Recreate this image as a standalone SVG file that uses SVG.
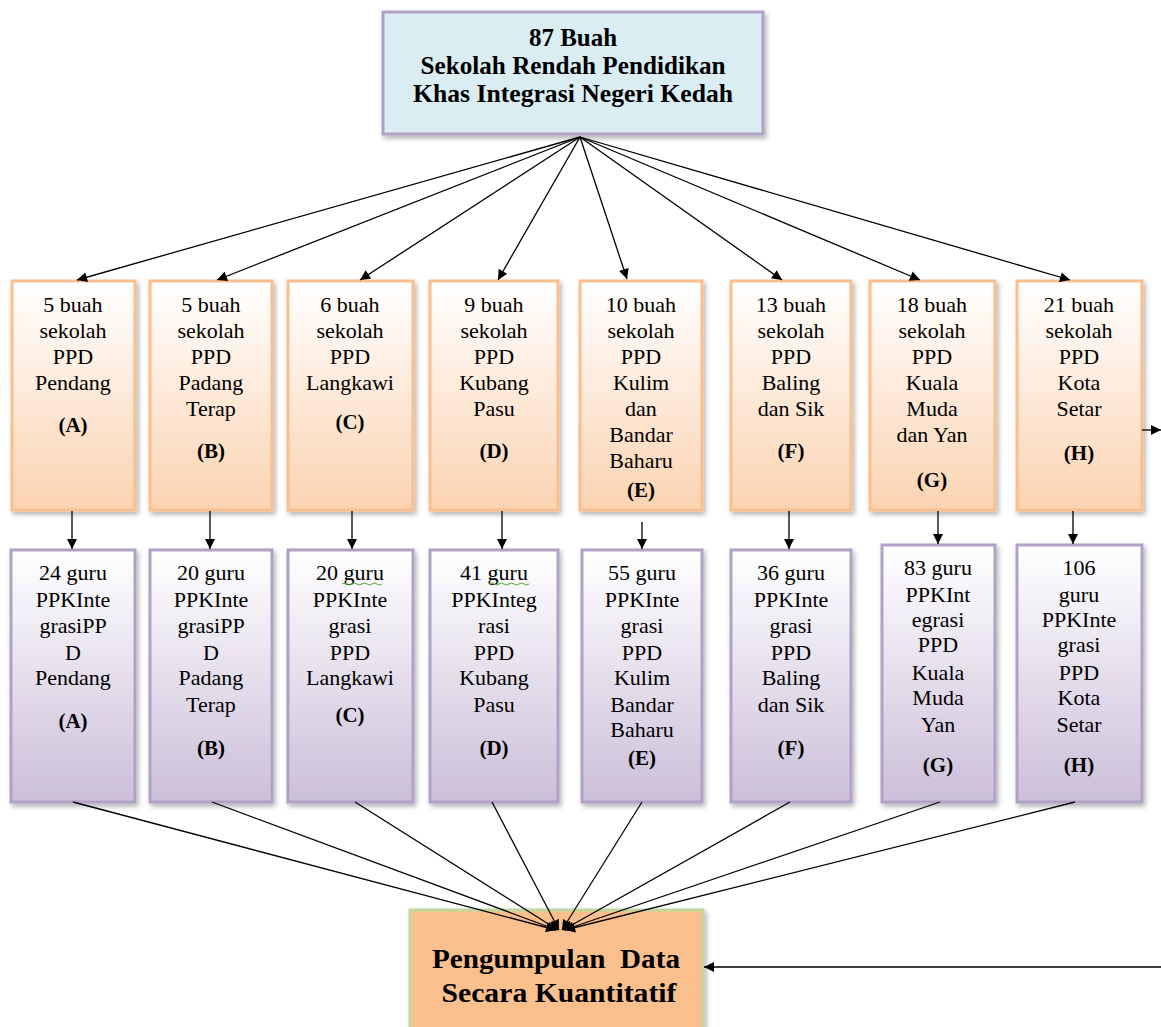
<svg xmlns="http://www.w3.org/2000/svg" width="1161" height="1027" viewBox="0 0 1161 1027">
<defs>
<linearGradient id="gOr" x1="0" y1="0" x2="0" y2="1"><stop offset="0" stop-color="#ffffff"/><stop offset="1" stop-color="#fbd3b1"/></linearGradient>
<linearGradient id="gPu" x1="0" y1="0" x2="0" y2="1"><stop offset="0" stop-color="#ffffff"/><stop offset="1" stop-color="#cbbfd9"/></linearGradient>
<filter id="sh" x="-20%" y="-20%" width="140%" height="140%"><feDropShadow dx="2" dy="3" stdDeviation="2.5" flood-color="#000" flood-opacity="0.3"/></filter>
<marker id="ah" viewBox="0 0 10 10" refX="10" refY="5" markerWidth="11" markerHeight="10" markerUnits="userSpaceOnUse" orient="auto"><path d="M0,0 L10,5 L0,10 Z" fill="#000"/></marker>
<style>
.top{fill:#daedf3;stroke:#b2a1c7;stroke-width:3}
.or{fill:url(#gOr);stroke:#f9bf8f;stroke-width:3}
.pu{fill:url(#gPu);stroke:#b2a1c7;stroke-width:3}
.bot{fill:#f9c08e;stroke:#c3d69b;stroke-width:3}
text{font-family:"Liberation Serif","Times New Roman",serif;fill:#000;text-anchor:middle}
.t{font-size:22px}
.b{font-size:21px;font-weight:bold}
.h{font-size:25px;font-weight:bold}
.bt{font-size:27px;font-weight:bold}
.c line{stroke:#000;stroke-width:1.3;marker-end:url(#ah)}
.sq{fill:none;stroke:#4ea72e;stroke-width:1}
</style>
</defs>
<rect width="1161" height="1027" fill="#fff"/>

<g id="top">
<rect class="top" x="383" y="12" width="380" height="122" filter="url(#sh)"/>
<text class="h" x="573" y="46">87 Buah</text>
<text class="h" x="573" y="74" textLength="305" lengthAdjust="spacingAndGlyphs">Sekolah Rendah Pendidikan</text>
<text class="h" x="573" y="102" textLength="320" lengthAdjust="spacingAndGlyphs">Khas Integrasi Negeri Kedah</text>
</g>

<g id="oA"><rect class="or" x="12" y="281" width="123" height="229" filter="url(#sh)"/>
<text class="t" x="73" y="312">5 buah</text><text class="t" x="73" y="338">sekolah</text><text class="t" x="73" y="364">PPD</text><text class="t" x="73" y="390">Pendang</text><text class="b" x="73" y="432">(A)</text></g>
<g id="oB"><rect class="or" x="150" y="281" width="122" height="229" filter="url(#sh)"/>
<text class="t" x="211" y="312">5 buah</text><text class="t" x="211" y="338">sekolah</text><text class="t" x="211" y="364">PPD</text><text class="t" x="211" y="390">Padang</text><text class="t" x="211" y="416">Terap</text><text class="b" x="211" y="458">(B)</text></g>
<g id="oC"><rect class="or" x="288" y="281" width="125" height="229" filter="url(#sh)"/>
<text class="t" x="350" y="312">6 buah</text><text class="t" x="350" y="338">sekolah</text><text class="t" x="350" y="364">PPD</text><text class="t" x="350" y="390">Langkawi</text><text class="b" x="350" y="429">(C)</text></g>
<g id="oD"><rect class="or" x="430" y="281" width="128" height="229" filter="url(#sh)"/>
<text class="t" x="494" y="312">9 buah</text><text class="t" x="494" y="338">sekolah</text><text class="t" x="494" y="364">PPD</text><text class="t" x="494" y="390">Kubang</text><text class="t" x="494" y="416">Pasu</text><text class="b" x="494" y="458">(D)</text></g>
<g id="oE"><rect class="or" x="580" y="281" width="122" height="229" filter="url(#sh)"/>
<text class="t" x="641" y="312">10 buah</text><text class="t" x="641" y="338">sekolah</text><text class="t" x="641" y="364">PPD</text><text class="t" x="641" y="390">Kulim</text><text class="t" x="641" y="416">dan</text><text class="t" x="641" y="442">Bandar</text><text class="t" x="641" y="468">Baharu</text><text class="b" x="641" y="497">(E)</text></g>
<g id="oF"><rect class="or" x="731" y="281" width="120" height="229" filter="url(#sh)"/>
<text class="t" x="791" y="312">13 buah</text><text class="t" x="791" y="338">sekolah</text><text class="t" x="791" y="364">PPD</text><text class="t" x="791" y="390">Baling</text><text class="t" x="791" y="416">dan Sik</text><text class="b" x="791" y="458">(F)</text></g>
<g id="oG"><rect class="or" x="870" y="281" width="125" height="229" filter="url(#sh)"/>
<text class="t" x="932" y="312">18 buah</text><text class="t" x="932" y="338">sekolah</text><text class="t" x="932" y="364">PPD</text><text class="t" x="932" y="390">Kuala</text><text class="t" x="932" y="416">Muda</text><text class="t" x="932" y="442">dan Yan</text><text class="b" x="932" y="487">(G)</text></g>
<g id="oH"><rect class="or" x="1017" y="281" width="125" height="229" filter="url(#sh)"/>
<text class="t" x="1079" y="312">21 buah</text><text class="t" x="1079" y="338">sekolah</text><text class="t" x="1079" y="364">PPD</text><text class="t" x="1079" y="390">Kota</text><text class="t" x="1079" y="416">Setar</text><text class="b" x="1079" y="460">(H)</text></g>

<g id="pA"><rect class="pu" x="11" y="550" width="124" height="252" filter="url(#sh)"/>
<text class="t" x="73" y="580">24 guru</text><text class="t" x="73" y="607">PPKInte</text><text class="t" x="73" y="633">grasiPP</text><text class="t" x="73" y="660">D</text><text class="t" x="73" y="685">Pendang</text><text class="b" x="73" y="728">(A)</text></g>
<g id="pB"><rect class="pu" x="150" y="550" width="122" height="252" filter="url(#sh)"/>
<text class="t" x="211" y="580">20 guru</text><text class="t" x="211" y="607">PPKInte</text><text class="t" x="211" y="633">grasiPP</text><text class="t" x="211" y="660">D</text><text class="t" x="211" y="685">Padang</text><text class="t" x="211" y="712">Terap</text><text class="b" x="211" y="755">(B)</text></g>
<g id="pC"><rect class="pu" x="288" y="550" width="125" height="252" filter="url(#sh)"/>
<text class="t" x="350" y="580">20 guru</text><text class="t" x="350" y="607">PPKInte</text><text class="t" x="350" y="633">grasi</text><text class="t" x="350" y="660">PPD</text><text class="t" x="350" y="685">Langkawi</text><text class="b" x="350" y="722">(C)</text>
<path class="sq" d="M342,584 q2.5,-2 5,0 t5,0 t5,0 t5,0 t5,0 t5,0 t5,0 t5,0"/></g>
<g id="pD"><rect class="pu" x="430" y="550" width="128" height="252" filter="url(#sh)"/>
<text class="t" x="494" y="580">41 guru</text><text class="t" x="494" y="607">PPKInteg</text><text class="t" x="494" y="633">rasi</text><text class="t" x="494" y="660">PPD</text><text class="t" x="494" y="685">Kubang</text><text class="t" x="494" y="712">Pasu</text><text class="b" x="494" y="755">(D)</text>
<path class="sq" d="M489,584 q2.5,-2 5,0 t5,0 t5,0 t5,0 t5,0 t5,0 t5,0 t5,0"/></g>
<g id="pE"><rect class="pu" x="582" y="550" width="120" height="252" filter="url(#sh)"/>
<text class="t" x="642" y="580">55 guru</text><text class="t" x="642" y="607">PPKInte</text><text class="t" x="642" y="633">grasi</text><text class="t" x="642" y="660">PPD</text><text class="t" x="642" y="685">Kulim</text><text class="t" x="642" y="712">Bandar</text><text class="t" x="642" y="737">Baharu</text><text class="b" x="642" y="765">(E)</text></g>
<g id="pF"><rect class="pu" x="731" y="550" width="120" height="252" filter="url(#sh)"/>
<text class="t" x="791" y="580">36 guru</text><text class="t" x="791" y="607">PPKInte</text><text class="t" x="791" y="633">grasi</text><text class="t" x="791" y="660">PPD</text><text class="t" x="791" y="685">Baling</text><text class="t" x="791" y="712">dan Sik</text><text class="b" x="791" y="755">(F)</text></g>
<g id="pG"><rect class="pu" x="882" y="545" width="113" height="257" filter="url(#sh)"/>
<text class="t" x="938" y="575">83 guru</text><text class="t" x="938" y="602">PPKInt</text><text class="t" x="938" y="627">egrasi</text><text class="t" x="938" y="652">PPD</text><text class="t" x="938" y="680">Kuala</text><text class="t" x="938" y="705">Muda</text><text class="t" x="938" y="732">Yan</text><text class="b" x="938" y="772">(G)</text></g>
<g id="pH"><rect class="pu" x="1017" y="545" width="125" height="257" filter="url(#sh)"/>
<text class="t" x="1079" y="575">106</text><text class="t" x="1079" y="602">guru</text><text class="t" x="1079" y="627">PPKInte</text><text class="t" x="1079" y="652">grasi</text><text class="t" x="1079" y="680">PPD</text><text class="t" x="1079" y="705">Kota</text><text class="t" x="1079" y="732">Setar</text><text class="b" x="1079" y="772">(H)</text></g>

<g id="bottom"><rect class="bot" x="410" y="910" width="293" height="125" filter="url(#sh)"/>
<text class="bt" x="556" y="968" textLength="248" lengthAdjust="spacingAndGlyphs" xml:space="preserve">Pengumpulan  Data</text>
<text class="bt" x="559" y="1002" textLength="235" lengthAdjust="spacingAndGlyphs">Secara Kuantitatif</text></g>

<g id="connectors" class="c">
<line x1="580" y1="137" x2="77" y2="280"/>
<line x1="580" y1="137" x2="217" y2="280"/>
<line x1="580" y1="137" x2="360" y2="280"/>
<line x1="580" y1="137" x2="498" y2="280"/>
<line x1="580" y1="137" x2="627" y2="279"/>
<line x1="580" y1="137" x2="782" y2="280"/>
<line x1="580" y1="137" x2="920" y2="280"/>
<line x1="580" y1="137" x2="1070" y2="280"/>
<line x1="72" y1="511" x2="72" y2="549"/>
<line x1="210" y1="511" x2="210" y2="549"/>
<line x1="352" y1="511" x2="352" y2="549"/>
<line x1="502" y1="511" x2="502" y2="549"/>
<line x1="642" y1="522" x2="642" y2="549"/>
<line x1="789" y1="511" x2="789" y2="549"/>
<line x1="938" y1="511" x2="938" y2="544"/>
<line x1="1073" y1="511" x2="1073" y2="544"/>
<line x1="73" y1="802" x2="556" y2="930"/>
<line x1="212" y1="802" x2="557" y2="930"/>
<line x1="355" y1="802" x2="558" y2="930"/>
<line x1="492" y1="802" x2="559" y2="930"/>
<line x1="642" y1="802" x2="562" y2="930"/>
<line x1="790" y1="802" x2="563" y2="930"/>
<line x1="940" y1="802" x2="564" y2="930"/>
<line x1="1075" y1="802" x2="565" y2="930"/>
<line x1="1142" y1="430" x2="1161" y2="430"/>
<line x1="1161" y1="967" x2="704" y2="967"/>
</g>
</svg>
